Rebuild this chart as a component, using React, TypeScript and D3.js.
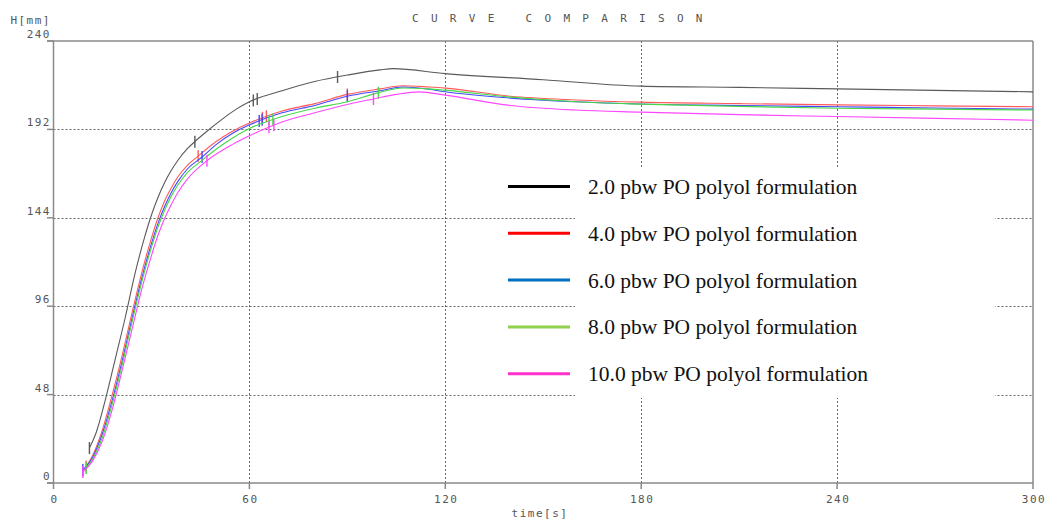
import React from 'react';
import * as d3 from 'd3';

// time [s] / height [mm] pairs
const t2 = [11, 13, 16, 19, 22, 25, 28, 30, 32, 34, 36, 38, 41, 44, 47, 52, 56, 60, 70, 80, 90, 100, 104, 120, 150, 180, 210, 240, 270, 300];
const h2 = [19, 27, 46, 68, 90, 114, 134, 145.5, 155, 163, 169.5, 175, 181.5, 186.5, 191, 198, 203, 207, 213, 218, 221.5, 224.3, 225, 222.3, 219, 215.5, 214.8, 214, 213.2, 212.4];

const t4 = [10, 12, 15, 18, 21, 24, 27, 30, 32, 34, 36, 38, 41, 44.3, 48, 52, 57, 60, 65, 70, 80, 90, 100, 107, 115, 120, 140, 160, 180, 210, 240, 270, 300];
const h4 = [9, 15, 29, 48, 69, 92, 114, 133, 144, 153, 160, 166, 172.5, 177.5, 183, 188, 193, 195.5, 199, 202, 206, 211, 214, 215.7, 215, 214.4, 210, 208, 206.8, 206, 205.3, 204.8, 204.3];

const t6 = [9, 12, 15, 18, 21, 24, 27, 30, 32, 34, 36, 38, 41, 45.5, 50, 55, 60, 65, 70, 80, 90, 100, 107, 115, 120, 140, 160, 180, 210, 240, 270, 300];
const h6 = [7, 14, 27, 45, 66, 89, 111, 130, 141, 150, 157.5, 163.5, 170.5, 177, 184, 190, 194.5, 198, 201, 205, 210, 213, 215, 213.8, 212.4, 209, 207, 205.8, 205, 204.3, 203.6, 203];

const t8 = [9.5, 12, 15, 18, 21, 24, 27, 30, 32, 34, 36, 38, 41, 45, 50, 55, 60, 65, 70, 80, 90, 99, 107, 115, 120, 140, 160, 180, 210, 240, 270, 300];
const h8 = [7, 13, 25, 43, 64, 87, 109, 128, 139, 148, 155.5, 161.5, 168.5, 174.5, 181.5, 187.5, 192.5, 196, 199, 203.5, 207, 211.7, 214.5, 214, 213.3, 209.5, 207, 205.7, 204.5, 203.5, 203, 202.5];

const t10 = [9, 12, 15, 18, 21, 24, 27, 30, 32, 34, 36, 38, 41, 47, 55, 60, 65, 70, 80, 90, 98, 105, 112, 120, 140, 160, 180, 210, 240, 270, 300];
const h10 = [6, 12, 23, 40, 61, 83, 105, 123.5, 134.5, 143.5, 151, 157.5, 165, 175, 184, 188.5, 192.5, 196, 201, 205.5, 208.5, 211, 212.4, 210.6, 205, 202.5, 201.4, 200, 199, 198, 197];

// event marks (times) on each curve
const marks2 = [11, 43.3, 61.2, 62.4, 87];
const marks4 = [10, 44.3, 64, 65.2, 90];
const marks6 = [9, 45.5, 63, 63.9, 90];
const marks8 = [10, 66, 67.2, 99.5];
const marks10 = [9, 47, 66, 67.5, 98];

const labels = [
  '2.0 pbw PO polyol formulation',
  '4.0 pbw PO polyol formulation',
  '6.0 pbw PO polyol formulation',
  '8.0 pbw PO polyol formulation',
  '10.0 pbw PO polyol formulation',
];
const plotColors = ['#5a5a5a', '#ff5a5a', '#4646ff', '#46d846', '#ff46ff'];
const legendColors = ['#000000', '#ff0000', '#0070c0', '#92d050', '#ff33cc'];

const xTicks = [0, 60, 120, 180, 240, 300];
const yTicks = [0, 48, 96, 144, 192, 240];

const W = 1050;
const H = 519;
const mono = '"DejaVu Sans Mono", "Liberation Mono", monospace';

const App: React.FC = () => {
  const x = d3.scaleLinear().domain([0, 300]).range([53.5, 1033]);
  const y = d3.scaleLinear().domain([0, 240]).range([483, 41]);

  const series = [
    { t: t2, h: h2, m: marks2 },
    { t: t4, h: h4, m: marks4 },
    { t: t6, h: h6, m: marks6 },
    { t: t8, h: h8, m: marks8 },
    { t: t10, h: h10, m: marks10 },
  ];

  const line = d3.line<[number, number]>()
    .x(d => x(d[0]))
    .y(d => y(d[1]))
    .curve(d3.curveMonotoneX);

  const valueAt = (ts: number[], hs: number[], tt: number) => {
    const i = Math.max(1, Math.min(ts.length - 1, d3.bisectLeft(ts, tt)));
    const k = (tt - ts[i - 1]) / (ts[i] - ts[i - 1]);
    return hs[i - 1] + k * (hs[i] - hs[i - 1]);
  };

  const x0 = x(0), x1 = x(300), yTop = y(240), yBot = y(0);
  const axisColor = '#8a8a8a';

  return (
    <svg width={W} height={H} style={{ position: 'absolute', left: 0, top: 0, background: '#fff' }}>
      {/* grid */}
      <g stroke="#666" strokeWidth={1} strokeDasharray="2,2">
        {xTicks.slice(1, -1).map(v => (
          <line key={'gx' + v} x1={Math.round(x(v)) + 0.5} x2={Math.round(x(v)) + 0.5} y1={yTop} y2={yBot} />
        ))}
        {yTicks.slice(1, -1).map(v => (
          <line key={'gy' + v} x1={x0} x2={x1} y1={Math.round(y(v)) + 0.5} y2={Math.round(y(v)) + 0.5} />
        ))}
      </g>

      {/* legend background */}
      <rect x={575} y={168} width={420} height={230} fill="#fff" />

      {/* frame */}
      <g stroke={axisColor} strokeWidth={1.5} fill="none">
        <line x1={47} x2={x1} y1={yTop} y2={yTop} />
        <line x1={47} x2={x1} y1={yBot} y2={yBot} />
        <line x1={x0} x2={x0} y1={yTop} y2={yBot} />
        <line x1={x1} x2={x1} y1={yTop} y2={yBot} />
        {yTicks.map(v => (
          <line key={'ty' + v} x1={47} x2={x0} y1={y(v)} y2={y(v)} />
        ))}
        {xTicks.map(v => (
          <line key={'tx' + v} x1={x(v)} x2={x(v)} y1={yBot} y2={yBot + 6} />
        ))}
      </g>

      {/* tick labels */}
      <g fontFamily={mono} fontSize={11} fill="#555" letterSpacing={1.5}>
        {yTicks.map(v => (
          <text key={'ly' + v} x={51} y={y(v) - 3} textAnchor="end">{v}</text>
        ))}
        {xTicks.map(v => (
          <text key={'lx' + v} x={x(v) + 1} y={503} textAnchor="middle">{v}</text>
        ))}
        <text x={51} y={24} textAnchor="end">H[mm]</text>
        <text x={540} y={517} textAnchor="middle">time[s]</text>
      </g>
      <text x={412} y={22} fontFamily={mono} fontSize={11} fill="#555" letterSpacing={12.3}>
        CURVE COMPARISON
      </text>

      {/* curves */}
      {series.map((s, i) => (
        <g key={'s' + i} stroke={plotColors[i]} fill="none" strokeWidth={1.1}>
          <path d={line(s.t.map((tt, j) => [tt, s.h[j]] as [number, number])) || ''} />
          {s.m.map((tt, j) => {
            const cy = y(valueAt(s.t, s.h, tt));
            return <line key={j} x1={x(tt)} x2={x(tt)} y1={cy - 6} y2={cy + 6} strokeWidth={1.4} />;
          })}
        </g>
      ))}

      {/* legend */}
      {labels.map((l, i) => (
        <g key={'lg' + i} transform={`translate(0, ${186.5 + i * 46.8})`}>
          <line x1={508} x2={570} y1={0} y2={0} stroke={legendColors[i]} strokeWidth={3} />
          <text x={588} y={7.5} fontFamily='"Liberation Serif", "Times New Roman", serif' fontSize={21.5} fill="#111">
            {l}
          </text>
        </g>
      ))}
    </svg>
  );
};

export default App;
